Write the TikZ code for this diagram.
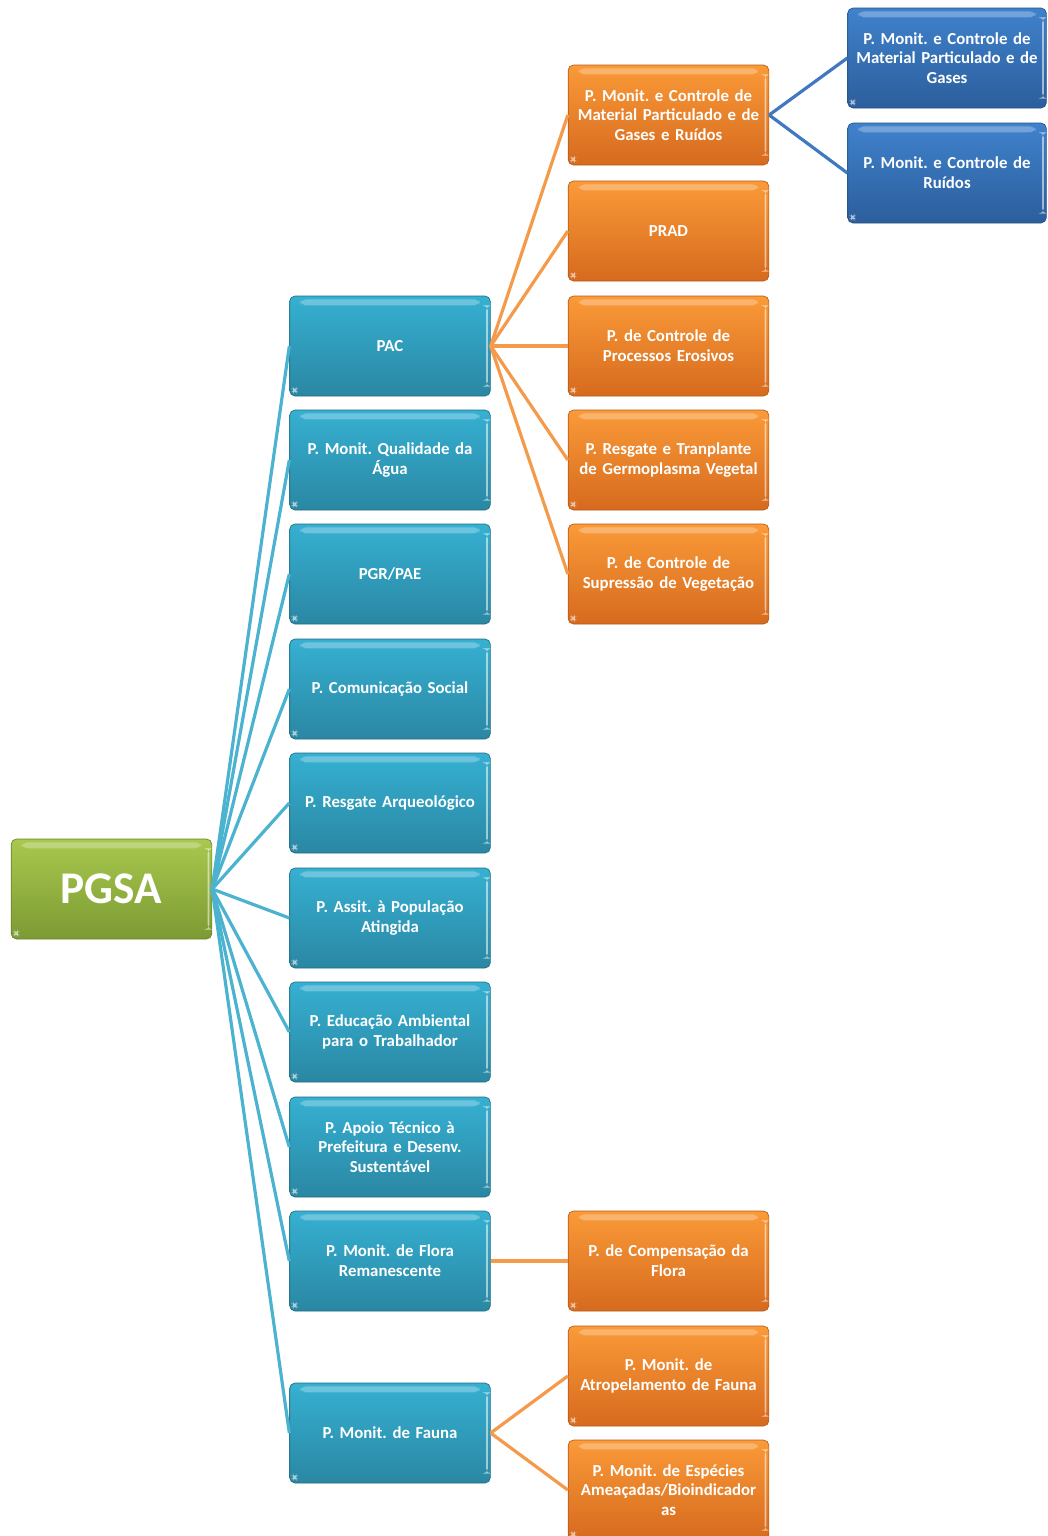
\documentclass[tikz,border=0pt]{standalone}
\usepackage{fontspec}
\setmainfont{Carlito}
\begin{document}
\frenchspacing
\begin{tikzpicture}[x=0.75pt,y=-0.75pt,
  box/.style={rounded corners=4pt, minimum width=150.5pt, minimum height=75pt,
    inner sep=1pt, text width=148pt, align=center, text=white,
    font=\bfseries\fontsize{12.6}{14.8}\selectfont,
    path picture={
      \fill[white,opacity=0.28]
        ([xshift=8pt,yshift=-2.5pt]path picture bounding box.north west) rectangle
        ([xshift=-8pt,yshift=-7pt]path picture bounding box.north east);
      \fill[white,opacity=0.55]
        ([xshift=-3.2pt,yshift=-7pt]path picture bounding box.north east) rectangle
        ([xshift=-1.8pt,yshift=7pt]path picture bounding box.south east);
      \fill[white,opacity=0.6]
        ([xshift=2.5pt,yshift=3pt]path picture bounding box.south west) rectangle
        ([xshift=5pt,yshift=5.5pt]path picture bounding box.south west);
    }},
  cyanbox/.style={box, top color=cyanT, bottom color=cyanB, draw=cyanB!80!black, line width=0.5pt},
  orangebox/.style={box, top color=orangeT, bottom color=orangeB, draw=orangeB!85!black, line width=0.5pt},
  navybox/.style={box, minimum width=148.5pt, text width=147pt, top color=navyT, bottom color=navyB, draw=navyB!85!black, line width=0.5pt},
  greenbox/.style={box, top color=greenT, bottom color=greenB, draw=greenB!85!black, line width=0.5pt,
    font=\bfseries\fontsize{34}{38}\selectfont},
  cline/.style={draw=cyanL, line width=2.4pt},
  oline/.style={draw=orangeL, line width=2.4pt},
  nline/.style={draw=navyL, line width=2.4pt}
]
\definecolor{cyanT}{HTML}{36B0D2}
\definecolor{cyanB}{HTML}{2A87A3}
\definecolor{orangeT}{HTML}{FA9A38}
\definecolor{orangeB}{HTML}{D66A1E}
\definecolor{navyT}{HTML}{3F82CC}
\definecolor{navyB}{HTML}{2C5E9C}
\definecolor{greenT}{HTML}{A8C84E}
\definecolor{greenB}{HTML}{7C9A33}
\definecolor{cyanL}{HTML}{4BB3D0}
\definecolor{orangeL}{HTML}{F59A4A}
\definecolor{navyL}{HTML}{4079C0}

\useasboundingbox (0,0) rectangle (1048,1536);

% root
\node[greenbox] (pgsa) at (111.5,889) {PGSA};

% first level programmes
\node[cyanbox] (pac)  at (390,346)  {PAC};
\node[cyanbox] (agua) at (390,460)  {P. Monit. Qualidade da\\Água};
\node[cyanbox] (pgr)  at (390,574)  {PGR/PAE};
\node[cyanbox] (com)  at (390,689)  {P. Comunicação Social};
\node[cyanbox] (arq)  at (390,803)  {P. Resgate Arqueológico};
\node[cyanbox] (pop)  at (390,918)  {P. Assit. à População\\Atingida};
\node[cyanbox] (edu)  at (390,1032) {P. Educação Ambiental\\para o Trabalhador};
\node[cyanbox] (apo)  at (390,1147) {P. Apoio Técnico à\\Prefeitura e Desenv.\\Sustentável};
\node[cyanbox] (flo)  at (390,1261) {P. Monit. de Flora\\Remanescente};
\node[cyanbox] (fau)  at (390,1433) {P. Monit. de Fauna};

% PAC sub-programmes
\node[orangebox] (mat)  at (668.5,115) {P. Monit. e Controle de\\Material Particulado e de\\Gases e Ruídos};
\node[orangebox] (prad) at (668.5,231) {PRAD};
\node[orangebox] (ero)  at (668.5,346) {P. de Controle de\\Processos Erosivos};
\node[orangebox] (ger)  at (668.5,460) {P. Resgate e Tranplante\\de Germoplasma Vegetal};
\node[orangebox] (sup)  at (668.5,574) {P. de Controle de\\Supressão de Vegetação};

% air and noise monitoring
\node[navybox] (gas) at (947,58)  {P. Monit. e Controle de\\Material Particulado e de\\Gases};
\node[navybox] (rui) at (947,173) {P. Monit. e Controle de\\Ruídos};

% flora and fauna sub-programmes
\node[orangebox] (cmp) at (668.5,1261) {P. de Compensação da\\Flora};
\node[orangebox] (atr) at (668.5,1376) {P. Monit. de\\Atropelamento de Fauna};
\node[orangebox] (esp) at (668.5,1490) {P. Monit. de Espécies\\Ameaçadas/Bioindicador\\as};

% connectors
\foreach \n in {pac,agua,pgr,com,arq,pop,edu,apo,flo,fau}
  \draw[cline] (pgsa.east) -- (\n.west);
\foreach \n in {mat,prad,ero,ger,sup}
  \draw[oline] (pac.east) -- (\n.west);
\foreach \n in {gas,rui}
  \draw[nline] (mat.east) -- (\n.west);
\draw[oline] (flo.east) -- (cmp.west);
\foreach \n in {atr,esp}
  \draw[oline] (fau.east) -- (\n.west);
\end{tikzpicture}
\end{document}
